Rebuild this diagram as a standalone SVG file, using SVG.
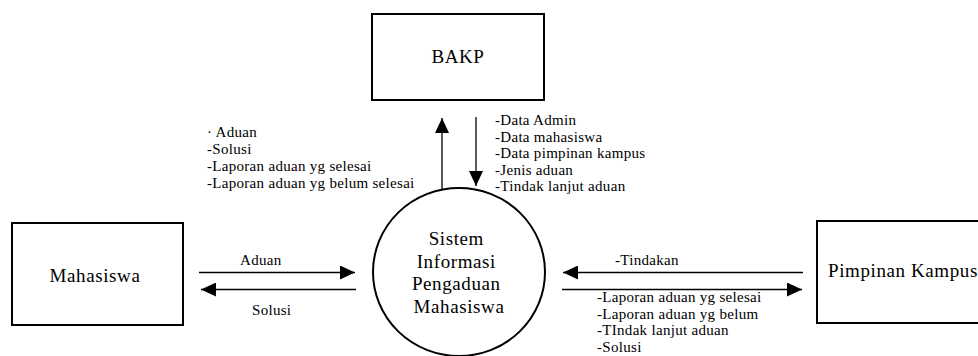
<svg xmlns="http://www.w3.org/2000/svg" width="978" height="356" viewBox="0 0 978 356">
<style>
.box{fill:#fff;stroke:#000;stroke-width:2}
.big{font-family:"Liberation Serif",serif;font-size:19px;letter-spacing:0.6px;fill:#000}
.lbl{font-family:"Liberation Serif",serif;font-size:15px;letter-spacing:0.3px;fill:#000}
.flow{stroke:#000;stroke-width:1.3;fill:none;marker-end:url(#ah)}
</style>
<defs>
<marker id="ah" markerUnits="userSpaceOnUse" markerWidth="16" markerHeight="14" refX="15" refY="7" orient="auto">
<path d="M0,0 L15,7 L0,14 Z" fill="#000"/>
</marker>
</defs>
<rect width="978" height="356" fill="#fff"/>
<g id="bakp">
<rect class="box" x="372" y="14" width="172" height="86"/>
<text class="big" x="458" y="63" text-anchor="middle">BAKP</text>
</g>
<g id="mahasiswa">
<rect class="box" x="12" y="223" width="171" height="102"/>
<text class="big" x="95" y="282" text-anchor="middle">Mahasiswa</text>
</g>
<g id="pimpinan">
<rect class="box" x="817" y="221" width="170" height="102"/>
<text class="big" x="828" y="277">Pimpinan Kampus</text>
</g>
<g id="sistem">
<ellipse cx="459" cy="272" rx="86" ry="84" fill="#fff" stroke="#000" stroke-width="2"/>
<text class="big" text-anchor="middle">
<tspan x="459" y="245">Sistem</tspan>
<tspan x="459" y="268">Informasi</tspan>
<tspan x="459" y="290">Pengaduan</tspan>
<tspan x="459" y="313">Mahasiswa</tspan>
</text>
</g>
<g id="connectors">
<line class="flow" x1="442" y1="189" x2="442" y2="118"/>
<line class="flow" x1="476" y1="117" x2="476" y2="186"/>
<line class="flow" x1="199" y1="272.5" x2="355" y2="272.5"/>
<line class="flow" x1="356" y1="289.5" x2="201" y2="289.5"/>
<line class="flow" x1="803" y1="272.5" x2="563" y2="272.5"/>
<line class="flow" x1="562" y1="289.5" x2="802" y2="289.5"/>
<text class="lbl">
<tspan x="207" y="137">· Aduan</tspan>
<tspan x="207" y="154">-Solusi</tspan>
<tspan x="207" y="171">-Laporan aduan yg selesai</tspan>
<tspan x="207" y="188">-Laporan aduan yg belum selesai</tspan>
</text>
<text class="lbl">
<tspan x="495" y="125">-Data Admin</tspan>
<tspan x="495" y="142">-Data mahasiswa</tspan>
<tspan x="495" y="158">-Data pimpinan kampus</tspan>
<tspan x="495" y="175">-Jenis aduan</tspan>
<tspan x="495" y="191">-Tindak lanjut aduan</tspan>
</text>
<text class="lbl" x="240" y="265">Aduan</text>
<text class="lbl" x="252" y="315">Solusi</text>
<text class="lbl" x="615" y="265">-Tindakan</text>
<text class="lbl">
<tspan x="597" y="302">-Laporan aduan yg selesai</tspan>
<tspan x="597" y="319">-Laporan aduan yg belum</tspan>
<tspan x="597" y="335">-TIndak lanjut aduan</tspan>
<tspan x="597" y="352">-Solusi</tspan>
</text>
</g>
</svg>
